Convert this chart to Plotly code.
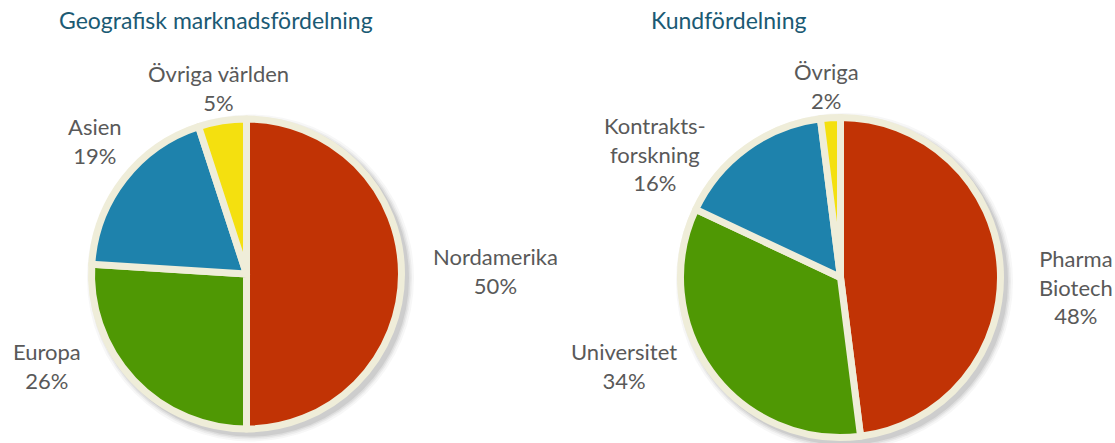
import plotly.graph_objects as go

W, H = 1115, 443

# Data
geo_labels = ["Nordamerika", "Europa", "Asien", "Övriga världen"]
geo_values = [50, 26, 19, 5]
geo_text = ["Nordamerika<br>50%", "Europa<br>26%", "Asien<br>19%", "Övriga världen<br>5%"]

kund_labels = ["Pharma Biotech", "Universitet", "Kontraktsforskning", "Övriga"]
kund_values = [48, 34, 16, 2]
kund_text = ["Pharma<br>Biotech<br>48%", "Universitet<br>34%", "Kontrakts-<br>forskning<br>16%", "Övriga<br>2%"]

titles = ["Geografisk marknadsfördelning", "Kundfördelning"]

colors = ["#C13305", "#4F9804", "#1E82AC", "#F4E00F"]
cream = "#EFEDD9"
lw = 7

# Layout geometry (pixels)
pies = [
    dict(cx=246.5, cy=274, r=155),
    dict(cx=840.5, cy=277.5, r=160),
]
label_pos = [
    [(495, 271), (47, 366), (95, 141), (218, 88)],
    [(1076, 286.5), (624, 365.5), (655, 154), (826, 86.5)],
]
title_pos = [(216, 20), (728, 20)]

def dom(p):
    cx, cy, r = p["cx"], p["cy"], p["r"]
    yb = H - cy
    return dict(x=[(cx - r) / W, (cx + r) / W], y=[(yb - r) / H, (yb + r) / H])

fig = go.Figure()
for labels, values, p in [(geo_labels, geo_values, pies[0]), (kund_labels, kund_values, pies[1])]:
    fig.add_trace(go.Pie(
        labels=labels, values=values, sort=False, direction="clockwise", rotation=0,
        textinfo="none", hoverinfo="label+percent",
        marker=dict(colors=colors, line=dict(color=cream, width=lw)),
        domain=dom(p), showlegend=False,
    ))

shapes = []
for p in pies:
    R = p["r"] + lw / 2
    for i, (dr, op) in enumerate([(5, 0.04), (3, 0.06), (1.5, 0.08), (0, 0.10)]):
        cx, cy = p["cx"] + 4, p["cy"] + 4
        rr = R + dr
        shapes.append(dict(type="circle", xref="paper", yref="paper", layer="below",
                           x0=(cx - rr) / W, x1=(cx + rr) / W,
                           y0=(H - cy - rr) / H, y1=(H - cy + rr) / H,
                           fillcolor="rgba(60,60,60,%s)" % op, line=dict(width=0)))

annotations = []
for texts, poss in [(geo_text, label_pos[0]), (kund_text, label_pos[1])]:
    for t, (x, y) in zip(texts, poss):
        annotations.append(dict(text=t, x=x / W, y=1 - y / H, xref="paper", yref="paper",
                                showarrow=False, xanchor="center", yanchor="middle", align="center",
                                font=dict(family="Lato, Carlito, sans-serif", size=22, color="#595959")))
for t, (x, y) in zip(titles, title_pos):
    annotations.append(dict(text=t, x=x / W, y=1 - y / H, xref="paper", yref="paper",
                            showarrow=False, xanchor="center", yanchor="middle",
                            font=dict(family="Lato, Carlito, sans-serif", size=23, color="#1B5A74")))

fig.update_layout(width=W, height=H, margin=dict(l=0, r=0, t=0, b=0),
                  paper_bgcolor="white", plot_bgcolor="white",
                  shapes=shapes, annotations=annotations)
fig.write_html("out.html", config={"displayModeBar": False},
               post_script="document.body.style.margin='0';")
